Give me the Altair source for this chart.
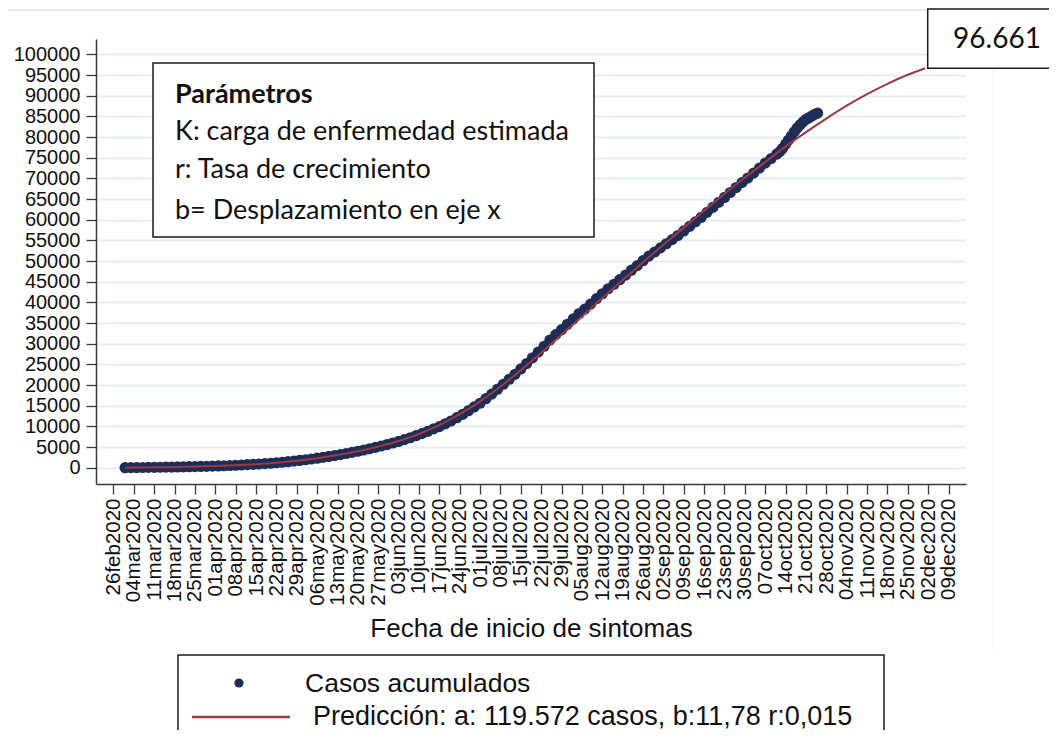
import altair as alt
import pandas as pd

# ---------------- data ----------------
# prediction curve: start (01mar), weekly tick dates 04mar..25nov, end (01dec)
pred_dates = (["2020-03-01"]
              + [d.strftime("%Y-%m-%d") for d in pd.date_range("2020-03-04", "2020-11-25", freq="7D")]
              + ["2020-12-01"])
pred_values = [0, 30, 90, 170, 270, 400, 590, 850, 1200, 1680,
               2300, 3050, 3980, 5100, 6450, 8150, 10300, 12950, 16050, 19650,
               23600, 27800, 32150, 36600, 41050, 45450, 49750, 53950, 58100, 62200,
               66300, 70200, 74000, 77700, 81200, 84500, 87600, 90400, 92900, 95100,
               96661]

# observed cumulative cases, every 2 days from 01mar2020 to 25oct2020
obs_dates = [d.strftime("%Y-%m-%d") for d in pd.date_range("2020-03-01", periods=120, freq="2D")]
obs_values = [0, 10, 30, 50, 70, 90, 110, 130, 160, 180,
              210, 240, 270, 300, 340, 380, 420, 470, 530, 590,
              660, 740, 810, 890, 980, 1080, 1190, 1320, 1450, 1600,
              1760, 1930, 2110, 2300, 2500, 2720, 2940, 3180, 3430, 3700,
              3980, 4280, 4590, 4920, 5250, 5600, 5980, 6350, 6800, 7250,
              7750, 8250, 8800, 9400, 9950, 10600, 11300, 12100, 12900, 13800,
              14700, 15600, 16700, 17800, 19000, 20200, 21400, 22600, 23900, 25200,
              26600, 28000, 29400, 30900, 32200, 33400, 34700, 36000, 37300, 38400,
              39600, 40900, 42100, 43300, 44400, 45500, 46600, 47800, 48900, 50100,
              51200, 52200, 53200, 54200, 55200, 56200, 57300, 58400, 59500, 60600,
              61800, 63000, 64200, 65400, 66600, 67800, 69000, 70100, 71300, 72500,
              73700, 74800, 75900, 77300, 79300, 81300, 83000, 84300, 85100, 85800]

# the steep last stretch is dense in the reference: the in-between days of October
obs_oct_dates = ["2020-10-12", "2020-10-14", "2020-10-16", "2020-10-18",
                 "2020-10-20", "2020-10-22", "2020-10-24"]
obs_oct_values = [76500, 78300, 80300, 82200, 83700, 84700, 85500]

y_ticks = list(range(0, 100001, 5000))
x_tick_dates = pd.date_range("2020-02-26", "2020-12-09", freq="7D")

end_label = "96.661"
legend_obs = "Casos acumulados"
legend_pred = "Predicción: a: 119.572 casos, b:11,78 r:0,015"
param_lines = ["K: carga de enfermedad estimada", "r: Tasa de crecimiento", "b= Desplazamiento en eje x"]

# ---------------- styling ----------------
NAVY = "#1f2c56"
RED = "#9c3a40"
GRID = "#e6eef1"
AXC = "#3a3a3a"
SANS = "Liberation Sans"
CAL = "Lato"

obs = pd.DataFrame({"fecha": obs_dates + obs_oct_dates, "casos": obs_values + obs_oct_values})
pred = pd.DataFrame({"fecha": pred_dates, "casos": pred_values})
one = pd.DataFrame({"k": [0]})

x_scale = alt.Scale(type="utc",
                    domain=[alt.DateTime(year=2020, month=2, date=20, utc=True),
                            alt.DateTime(year=2020, month=12, date=15, utc=True)])
y_scale = alt.Scale(domain=[-3945, 103750], nice=False, zero=False)

x_axis = alt.Axis(
    values=[alt.DateTime(year=d.year, month=d.month, date=d.day, utc=True) for d in x_tick_dates],
    labelExpr="lower(utcFormat(datum.value, '%d%b%Y'))",
    labelAngle=270, labelAlign="right", labelBaseline="middle",
    labelFont=SANS, labelFontSize=20.5, labelColor="#111111", labelPadding=4,
    labelOverlap=False, labelFlush=False, labelBound=False,
    tickSize=10, tickColor=AXC, tickWidth=1.3,
    domainColor=AXC, domainWidth=1.5, grid=False,
    title="Fecha de inicio de sintomas", titleFont=SANS, titleFontSize=26,
    titleFontWeight="normal", titleColor="#111111",
    titleBaseline="alphabetic", titleY=152,
)
y_axis = alt.Axis(
    values=y_ticks, format="d",
    labelFont=SANS, labelFontSize=20, labelColor="#111111", labelPadding=6,
    labelOverlap=False, labelFlush=False, labelBound=False,
    tickSize=10, tickColor=AXC, tickWidth=1.3,
    domainColor=AXC, domainWidth=1.5,
    grid=True, gridColor=GRID, gridWidth=2,
    title=None,
)

x_enc = alt.X("fecha:T", scale=x_scale, axis=x_axis)
y_enc = alt.Y("casos:Q", scale=y_scale, axis=y_axis)

points = alt.Chart(obs).mark_circle(size=125, color=NAVY, opacity=1).encode(x=x_enc, y=y_enc)
line = alt.Chart(pred).mark_line(color=RED, strokeWidth=2, interpolate="monotone").encode(x=x_enc, y=y_enc)

base = alt.Chart(one)

top_rule = base.mark_rule(color="#e3ebee", strokeWidth=2).encode(
    x=alt.value(-96), x2=alt.value(961), y=alt.value(-29))
v_rule = base.mark_rule(color="#f3f6f8", strokeWidth=1.5).encode(
    x=alt.value(897.5), y=alt.value(29), y2=alt.value(611))

param_box = base.mark_rect(fill="white", stroke="#1a1a1a", strokeWidth=1.5).encode(
    x=alt.value(57), x2=alt.value(498), y=alt.value(24), y2=alt.value(198))
param_title = base.mark_text(text="Parámetros", font=CAL, fontSize=27, fontWeight="bold",
                             align="left", baseline="middle", color="#111111").encode(
    x=alt.value(79), y=alt.value(56))
param_texts = [
    base.mark_text(text=t, font=CAL, fontSize=27, align="left", baseline="middle",
                   color="#111111").encode(x=alt.value(79), y=alt.value(yy))
    for t, yy in zip(param_lines, [93, 131, 172])
]

end_box = base.mark_rect(fill="white", stroke="#1a1a1a", strokeWidth=1.5).encode(
    x=alt.value(831.7), x2=alt.value(990), y=alt.value(-30), y2=alt.value(29.3))
end_text = base.mark_text(text=end_label, font=CAL, fontSize=28, align="center",
                          baseline="middle", color="#111111").encode(
    x=alt.value(901), y=alt.value(1))

leg_box = base.mark_rect(fill="white", stroke="#1a1a1a", strokeWidth=1.5).encode(
    x=alt.value(82), x2=alt.value(788), y=alt.value(616), y2=alt.value(730))
leg_dot = base.mark_circle(size=85, color=NAVY, opacity=1).encode(
    x=alt.value(143), y=alt.value(644))
leg_line = base.mark_rule(color=RED, strokeWidth=2.5).encode(
    x=alt.value(96), x2=alt.value(194), y=alt.value(678))
leg_t1 = base.mark_text(text=legend_obs, font=SANS, fontSize=26.5, align="left",
                        baseline="middle", color="#111111").encode(
    x=alt.value(209), y=alt.value(645))
leg_t2 = base.mark_text(text=legend_pred, font=SANS, fontSize=27, align="left",
                        baseline="middle", color="#111111").encode(
    x=alt.value(217), y=alt.value(678))

chart = alt.layer(
    points, line, top_rule, v_rule, param_box, param_title, *param_texts,
    end_box, end_text, leg_box, leg_dot, leg_line, leg_t1, leg_t2,
).properties(
    width=870, height=445,
    autosize=alt.AutoSizeParams(type="none"),
    padding={"left": 88, "top": 31, "right": 83, "bottom": 246},
    background="white",
).configure_view(stroke=None)

chart.save("out.html", embed_options={"renderer": "svg", "actions": False})
